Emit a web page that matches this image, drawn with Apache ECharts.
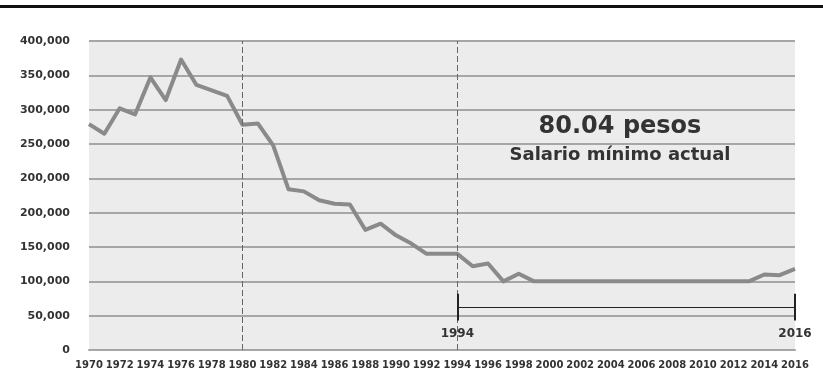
<!DOCTYPE html>
<html>
<head>
<meta charset="utf-8">
<script src="https://cdn.jsdelivr.net/npm/echarts@6/dist/echarts.min.js"></script>
<style>
  html, body { margin: 0; padding: 0; background: #fff; }
  #myChart { width: 823px; height: 383px; }
</style>
</head>
<body>
<div id="myChart"></div>
<script>
  // años 1970 - 2016
  var years = []
  for (var y = 1970; y <= 2016; y++) years.push(String(y))

  // valores en unidades lineales del eje (50,000 por línea de rejilla)
  var salario = [
    329, 315, 352, 343, 397, 364, 423, 386, 378, 370,
    328, 330, 298, 234, 231, 218, 213, 212, 175, 184,
    167, 155, 140, 140, 140, 122, 126, 100, 111, 100,
    100, 100, 100, 100, 100, 100, 100, 100, 100, 100,
    100, 100, 100, 100, 110, 109, 118
  ].map(function (v) { return v * 1000 })

  // etiquetas tal como aparecen (200,000 repetido)
  var yTickLabels = ['0', '50,000', '100,000', '150,000', '200,000', '200,000', '250,000', '300,000', '350,000', '400,000']

  var markYears = ['1980', '1994']
  var rangeStart = '1994'
  var rangeEnd = '2016'
  var rangeLevel = 62000
  var tickLow = 43000
  var tickHigh = 82000

  var font = '"DejaVu Sans", "Open Sans", sans-serif'

  var myChart = echarts.init(document.getElementById('myChart'))
  var option = {
    backgroundColor: '#ffffff',
    animation: false,
    grid: {
      left: 89,
      right: 28,
      top: 41,
      bottom: 33,
      show: true,
      backgroundColor: '#ececec',
      borderWidth: 0
    },
    graphic: [
      { type: 'rect', left: 0, top: 5, shape: { width: 823, height: 3 }, style: { fill: '#111' } },
      {
        type: 'text', x: 620, y: 115,
        style: { text: '80.04 pesos', font: 'bold 24px ' + font, fill: '#333', textAlign: 'center' }
      },
      {
        type: 'text', x: 620, y: 146,
        style: { text: 'Salario mínimo actual', font: 'bold 18px ' + font, fill: '#333', textAlign: 'center' }
      }
    ],
    xAxis: {
      type: 'category',
      data: years,
      boundaryGap: false,
      axisLine: { show: true, lineStyle: { color: '#a6a6a6', width: 2 } },
      axisTick: { show: false },
      axisLabel: {
        interval: 1,
        margin: 10,
        color: '#333',
        fontFamily: font,
        fontWeight: 'bold',
        fontSize: 10
      },
      splitLine: { show: false }
    },
    yAxis: {
      type: 'value',
      min: 0,
      max: 450000,
      interval: 50000,
      axisLine: { show: false },
      axisTick: { show: false },
      axisLabel: {
        margin: 19,
        color: '#333',
        fontFamily: font,
        fontWeight: 'bold',
        fontSize: 11,
        formatter: function (v) { return yTickLabels[Math.round(v / 50000)] }
      },
      splitLine: { lineStyle: { color: '#a6a6a6', width: 2 } }
    },
    series: [{
      name: 'Salario',
      type: 'line',
      data: salario,
      symbol: 'none',
      lineStyle: { color: '#8a8a8a', width: 4, join: 'round' },
      markLine: {
        silent: true,
        symbol: 'none',
        label: { show: false },
        data: [
          { xAxis: markYears[0], lineStyle: { color: '#666', width: 1, type: [6, 3] } },
          { xAxis: markYears[1], lineStyle: { color: '#666', width: 1, type: [6, 3] } },
          [
            { coord: [rangeStart, rangeLevel], lineStyle: { color: '#222', width: 1, type: 'solid' } },
            { coord: [rangeEnd, rangeLevel] }
          ],
          [
            {
              coord: [rangeStart, tickLow],
              lineStyle: { color: '#222', width: 2, type: 'solid' },
              label: { show: true, position: 'start', formatter: rangeStart, color: '#333', fontFamily: font, fontWeight: 'bold', fontSize: 12, distance: 7 }
            },
            { coord: [rangeStart, tickHigh] }
          ],
          [
            {
              coord: [rangeEnd, tickLow],
              lineStyle: { color: '#222', width: 2, type: 'solid' },
              label: { show: true, position: 'start', formatter: rangeEnd, color: '#333', fontFamily: font, fontWeight: 'bold', fontSize: 12, distance: 7 }
            },
            { coord: [rangeEnd, tickHigh] }
          ]
        ]
      }
    }]
  }

  myChart.setOption(option)
</script>
</body>
</html>
